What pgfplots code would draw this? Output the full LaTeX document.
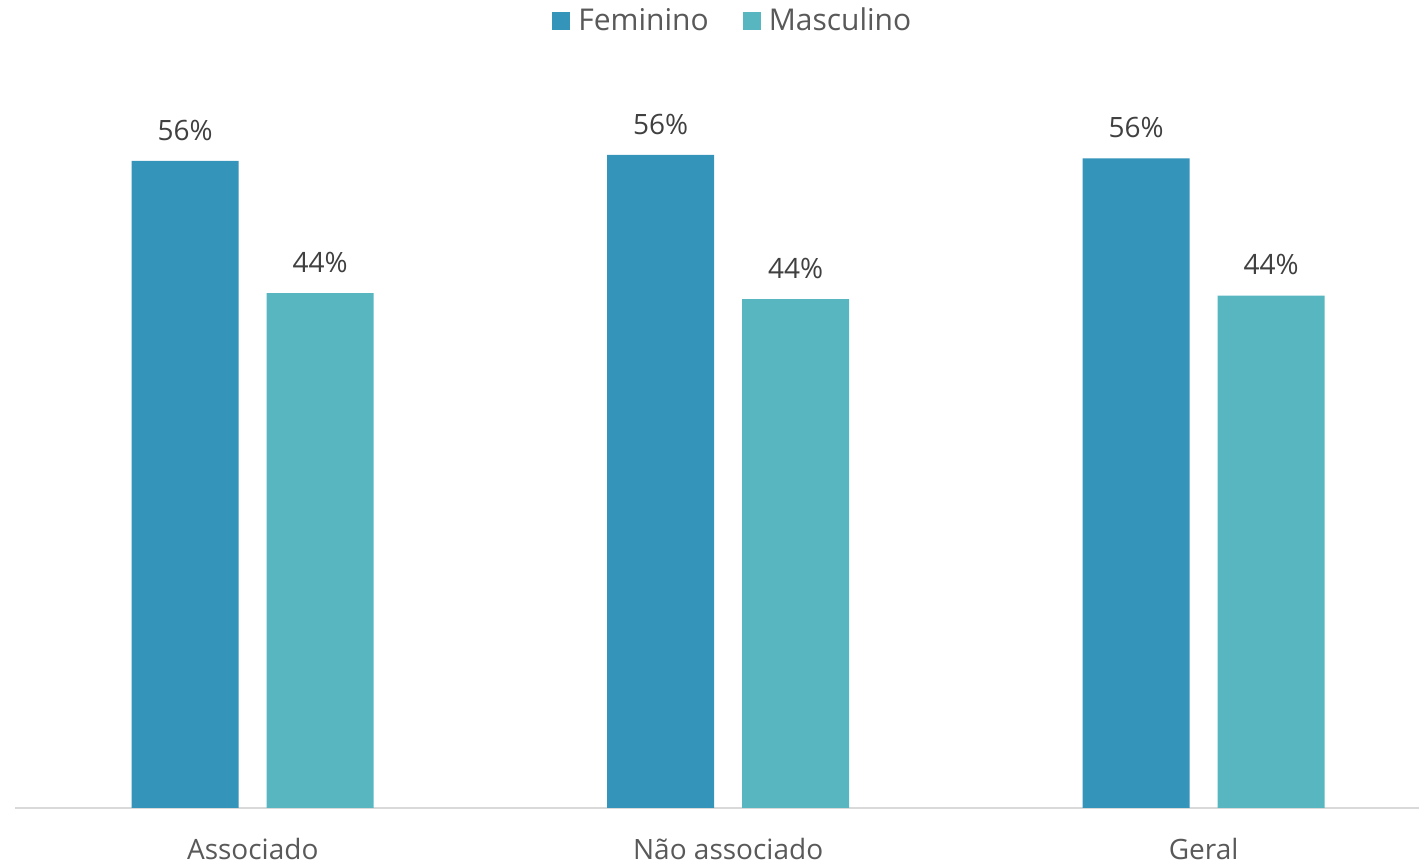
\documentclass[border=0pt]{standalone}
\usepackage{pgfplots}
\pgfplotsset{compat=1.18}
\usepackage{fontspec}
\setmainfont{Open Sans}
\definecolor{fem}{HTML}{3494BA}
\definecolor{masc}{HTML}{58B6C0}
\definecolor{lblgray}{HTML}{404040}
\definecolor{tickgray}{HTML}{595959}
\definecolor{axisgray}{HTML}{D9D9D9}
\begin{document}
\begin{tikzpicture}
\useasboundingbox (0,0) rectangle (709.5pt,433.5pt);
\begin{axis}[
 at={(7.5pt,29.5pt)}, anchor=south west,
 scale only axis, width=702pt, height=348.6pt,
 xmin=-0.5, xmax=2.453, ymin=0, ymax=60,
 axis y line=none, axis x line*=bottom,
 x axis line style={draw=axisgray, line width=1pt, -},
 xtick={0,1,2}, xticklabels={Associado, Não associado, Geral},
 major tick length=0pt,
 xticklabel style={font=\fontsize{14}{17}\selectfont, text=tickgray, inner sep=0pt, anchor=north, yshift=-15pt},
 ybar, bar width=53.5pt,
 /pgf/number format/assume math mode=true,
 nodes near coords={\pgfmathprintnumber[fixed,precision=0,assume math mode=true]{\pgfplotspointmeta}\%},
 nodes near coords style={font=\fontsize{14}{17}\selectfont, text=lblgray, anchor=south, inner sep=0pt, yshift=10pt},
 legend style={at={(0.512,1.129)}, anchor=center, draw=none, legend columns=-1,
   font=\fontsize{15}{18}\selectfont, text=tickgray,
   /tikz/every even column/.append style={column sep=15pt},
   /tikz/every odd column/.append style={column sep=2pt}},
 legend image code/.code={\fill[#1] (0pt,-4.5pt) rectangle (9pt,4.5pt);},
]
\addplot[fill=fem, draw=none, bar shift=-33.75pt] coordinates {(0,55.7) (1,56.2) (2,55.9)};
\addplot[fill=masc, draw=none, bar shift=33.75pt] coordinates {(0,44.3) (1,43.8) (2,44.1)};
\legend{Feminino, Masculino}
\end{axis}
\end{tikzpicture}
\end{document}
